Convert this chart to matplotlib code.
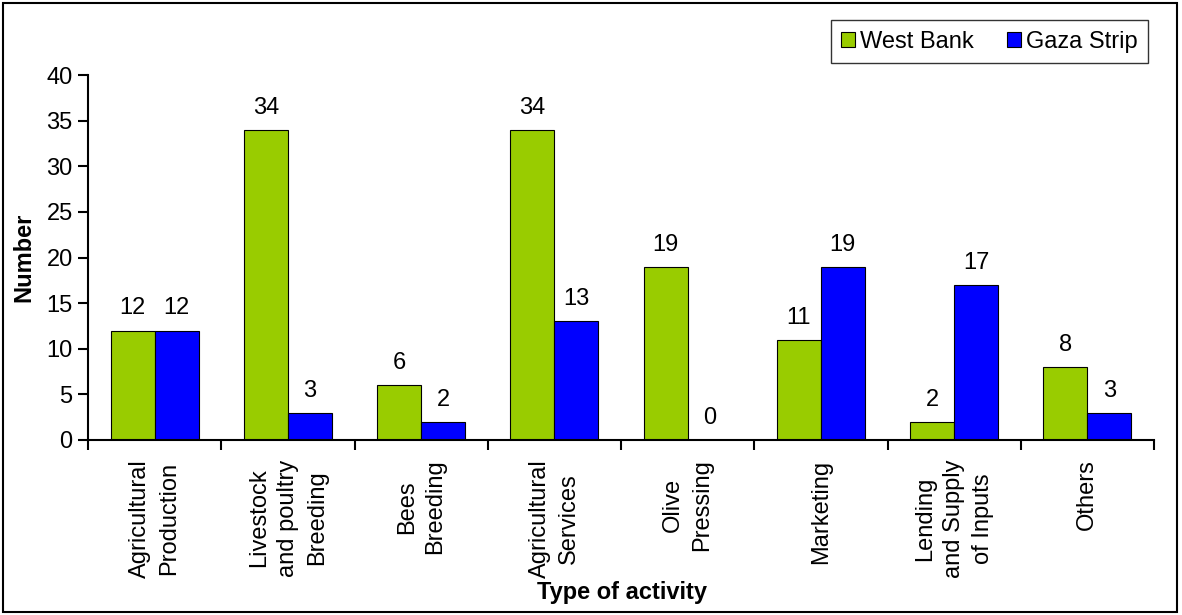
import matplotlib
matplotlib.use("Agg")
import matplotlib.pyplot as plt
import numpy as np
from matplotlib.patches import Rectangle

plt.rcParams['font.family'] = ['Liberation Sans', 'DejaVu Sans']

categories = [
    "Agricultural\nProduction",
    "Livestock\nand poultry\nBreeding",
    "Bees\nBreeding",
    "Agricultural\nServices",
    "Olive\nPressing",
    "Marketing",
    "Lending\nand Supply\nof Inputs",
    "Others",
]
west_bank = [12, 34, 6, 34, 19, 11, 2, 8]
gaza_strip = [12, 3, 2, 13, 0, 19, 17, 3]

green = "#99CC00"
blue = "#0000FF"
fs = 17

fig = plt.figure(figsize=(11.82, 6.15), dpi=100)
ax = fig.add_axes([88 / 1182, 1 - 440 / 615, (1154 - 88) / 1182, (440 - 75) / 615])

x = np.arange(len(categories))
w = 0.33
b1 = ax.bar(x - w / 2, west_bank, w, color=green, edgecolor="black", linewidth=0.8, label="West Bank")
b2 = ax.bar(x + w / 2, gaza_strip, w, color=blue, edgecolor="black", linewidth=0.8, label="Gaza Strip")

for bars, vals in ((b1, west_bank), (b2, gaza_strip)):
    for r, v in zip(bars, vals):
        ax.annotate(str(v), (r.get_x() + r.get_width() / 2, v), xytext=(0, 8),
                    textcoords="offset points", ha="center", va="bottom", fontsize=fs)

ax.set_xlim(-0.5, len(categories) - 0.5)
ax.set_ylim(0, 40)
ax.set_yticks(range(0, 41, 5))
ax.tick_params(axis="y", labelsize=fs, direction="out", length=7, width=1.5, pad=4)
ax.set_xticks(np.arange(len(categories) + 1) - 0.5, minor=False)
ax.set_xticklabels([])
ax.set_xticks(x, minor=True)
ax.set_xticklabels(categories, minor=True, rotation=90, multialignment="center",
                   fontsize=fs, linespacing=1.4)
ax.tick_params(axis="x", which="major", direction="out", length=7, width=1.5)
ax.tick_params(axis="x", which="minor", length=0, pad=14)

for s in ("top", "right"):
    ax.spines[s].set_visible(False)
for s in ("left", "bottom"):
    ax.spines[s].set_linewidth(1.5)

ax.set_ylabel("Number", fontsize=fs, fontweight="bold", labelpad=8)
fig.text(622 / 1182, 1 - 593 / 615, "Type of activity", ha="center", va="center",
         fontsize=fs, fontweight="bold")

leg = ax.legend(loc="upper right", bbox_to_anchor=(1148 / 1182, 1 - 20 / 615),
                bbox_transform=fig.transFigure, ncol=2, fontsize=fs, frameon=True,
                fancybox=False, edgecolor="black", handlelength=0.6, handleheight=0.6,
                handletextpad=0.2, columnspacing=1.4, borderpad=0.45, borderaxespad=0)
leg.get_frame().set_linewidth(1.0)

fig.patches.append(Rectangle((3 / 1182, 3 / 615), 1174 / 1182, 609 / 615,
                             transform=fig.transFigure, fill=False,
                             edgecolor="black", linewidth=1.5))

fig.savefig("out.png", dpi=100)
